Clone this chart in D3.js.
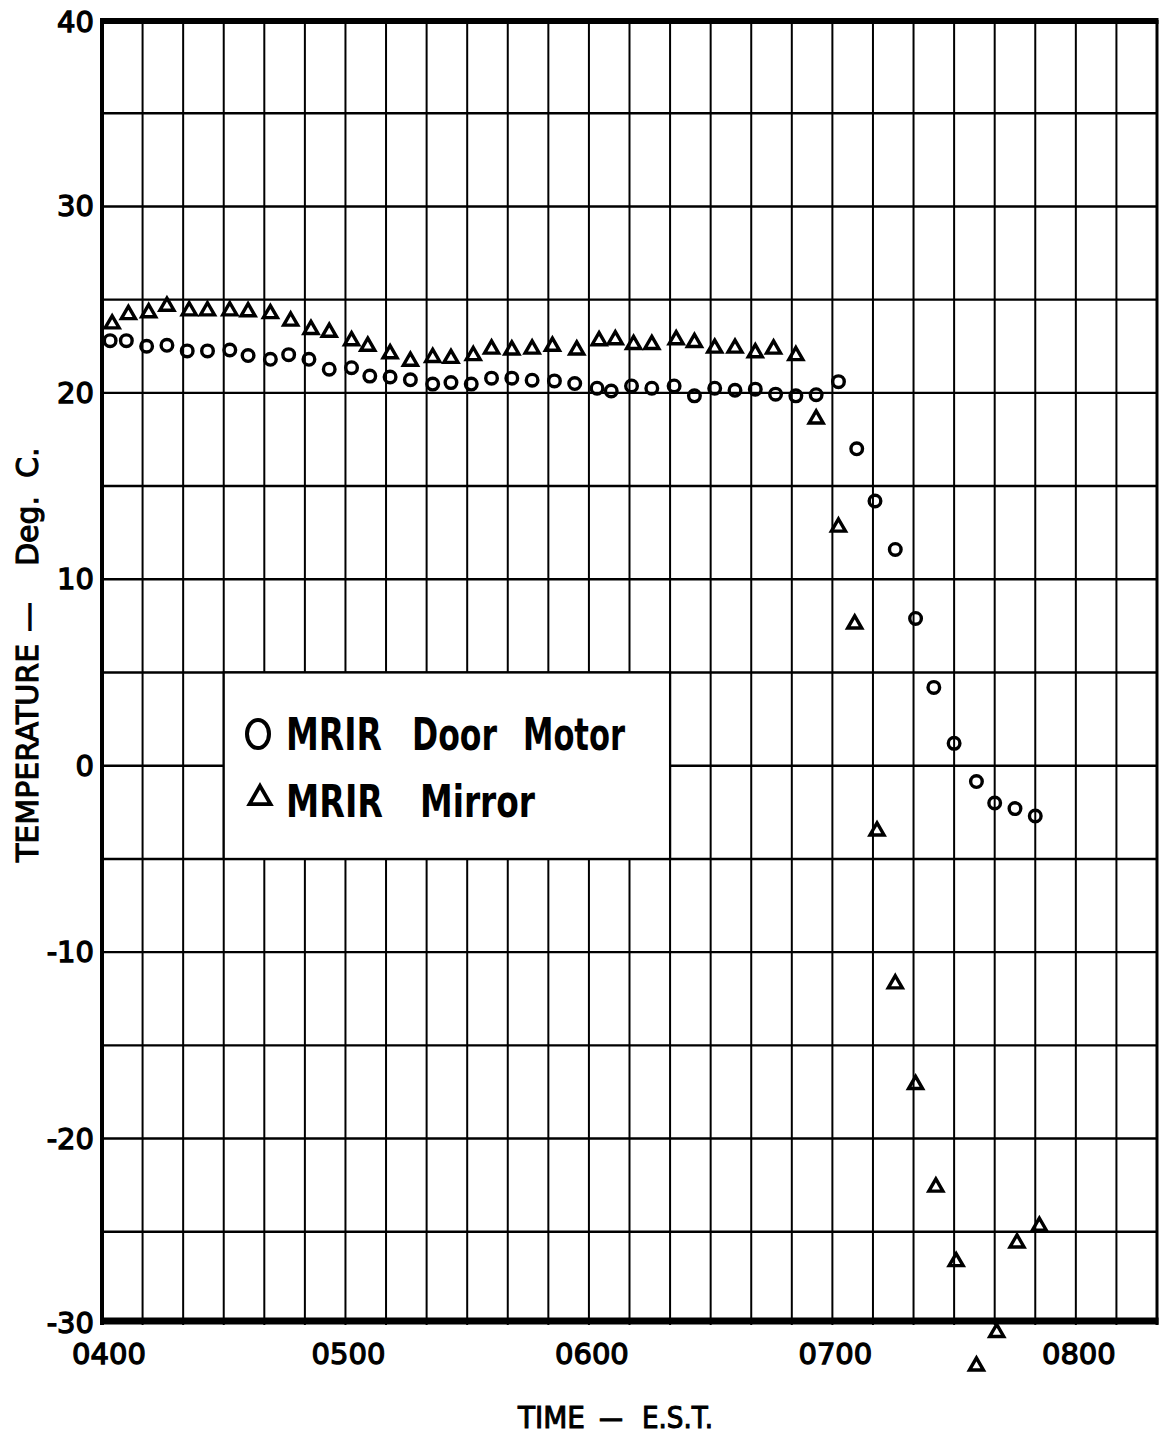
<!DOCTYPE html>
<html>
<head>
<meta charset="utf-8">
<script src="https://cdn.jsdelivr.net/npm/d3@7"></script>
<style>
  html, body { margin: 0; padding: 0; background: #fff; }
  svg { display: block; }
</style>
</head>
<body>
<div id="chart"></div>
<script>

/*********** DATA ***********/

// minutes after 0400 EST
var motorMinutes = [2, 6, 11, 16, 21, 26, 31.5, 36, 41.5, 46, 51, 56, 61.5, 66, 71, 76, 81.5, 86, 91, 96,
    101, 106, 111.5, 116.5, 122, 125.5, 130.5, 135.5, 141, 146, 151, 156, 161, 166, 171, 176, 181.5,
    186, 190.5, 195.5, 200.5, 205, 210, 215.5, 220, 225, 230]
var motorTemp = [22.8, 22.8, 22.5, 22.55, 22.25, 22.25, 22.3, 22.0, 21.8, 22.05, 21.8, 21.27, 21.35, 20.9,
    20.85, 20.7, 20.47, 20.55, 20.47, 20.79, 20.79, 20.68, 20.64, 20.5, 20.25, 20.1, 20.37, 20.25, 20.37,
    19.84, 20.25, 20.14, 20.2, 19.93, 19.84, 19.9, 20.6, 17.0, 14.2, 11.6, 7.9, 4.2, 1.2, -0.85, -2.0,
    -2.3, -2.7]

var mirrorMinutes = [2.5, 6.5, 11.5, 16, 21.5, 26, 31.5, 36, 41.5, 46.5, 51.5, 56, 61.5, 65.5, 71, 76, 81.5,
    86, 91.5, 96, 101, 106, 111, 117, 122.5, 126.5, 131, 135.5, 141.5, 146, 151, 156, 161, 165.5, 171,
    176, 181.5, 185.5, 191, 195.5, 200.5, 205.5, 210.5, 215.5, 220.5, 225.5, 231]
var mirrorTemp = [23.7, 24.2, 24.3, 24.65, 24.4, 24.4, 24.4, 24.35, 24.25, 23.85, 23.4, 23.25, 22.8, 22.5,
    22.1, 21.7, 21.9, 21.85, 22.0, 22.35, 22.3, 22.35, 22.5, 22.3, 22.8, 22.85, 22.6, 22.6, 22.85, 22.7,
    22.4, 22.4, 22.15, 22.35, 22.0, 18.6, 12.8, 7.6, -3.5, -11.7, -17.1, -22.6, -26.6, -32.2, -30.4,
    -25.6, -24.7]

var xTickMinutes = [0, 60, 120, 180, 240]
var xTickLabels = ["0400", "0500", "0600", "0700", "0800"]
var yTickValues = [40, 30, 20, 10, 0, -10, -20, -30]
var yTickLabels = ["40", "30", "20", "10", "0", "-10", "-20", "-30"]

var legendLabels = ["MRIR Door Motor", "MRIR Mirror"]


/*********** GRAPHIQUE ***********/

var W = 1160, H = 1441
var FONT = "'DejaVu Sans', 'Liberation Sans', sans-serif"

var svg = d3.select("#chart").append("svg")
    .attr("width", W)
    .attr("height", H)

var x = d3.scaleLinear().domain([0, 260]).range([102, 1157])
var y = d3.scaleLinear().domain([-30, 40]).range([1325, 20])

// grid: every 10 minutes, every 5 degrees
var gridG = svg.append("g").attr("stroke", "#000").attr("fill", "none")

gridG.selectAll("line.v")
    .data(d3.range(10, 260, 10))
    .enter().append("line")
    .attr("class", "v")
    .attr("x1", function (d) { return x(d) })
    .attr("x2", function (d) { return x(d) })
    .attr("y1", y(40))
    .attr("y2", y(-30))
    .attr("stroke-width", 2)

gridG.selectAll("line.h")
    .data(d3.range(-25, 40, 5))
    .enter().append("line")
    .attr("class", "h")
    .attr("x1", x(0))
    .attr("x2", x(260))
    .attr("y1", function (d) { return y(d) })
    .attr("y2", function (d) { return y(d) })
    .attr("stroke-width", 2.4)

// legend box covers the grid
svg.append("rect")
    .attr("x", x(30))
    .attr("y", y(5))
    .attr("width", x(140) - x(30))
    .attr("height", y(-5) - y(5))
    .attr("fill", "#fff")
    .attr("stroke", "#000")
    .attr("stroke-width", 2.2)

// frame
svg.append("line").attr("x1", x(0)).attr("x2", x(0)).attr("y1", y(40)).attr("y2", y(-30))
    .attr("stroke", "#000").attr("stroke-width", 4)
svg.append("line").attr("x1", x(260)).attr("x2", x(260)).attr("y1", y(40)).attr("y2", y(-30))
    .attr("stroke", "#000").attr("stroke-width", 3)
svg.append("line").attr("x1", x(0) - 2).attr("x2", x(260) + 1.5).attr("y1", y(40) + 1).attr("y2", y(40) + 1)
    .attr("stroke", "#000").attr("stroke-width", 6)
svg.append("line").attr("x1", x(0) - 2).attr("x2", x(260) + 1.5).attr("y1", y(-30) - 4).attr("y2", y(-30) - 4)
    .attr("stroke", "#000").attr("stroke-width", 7)

// tick labels
svg.append("g").selectAll("text")
    .data(yTickValues)
    .enter().append("text")
    .attr("x", 94)
    .attr("y", function (d) { return y(d) + (d == 40 ? 12 : (d == -30 ? 8 : 10)) })
    .attr("text-anchor", "end")
    .attr("font-family", FONT)
    .attr("font-size", 29)
    .attr("fill", "#000").attr("stroke", "#000").attr("stroke-width", 1.3)
    .text(function (d, i) { return yTickLabels[i] })

svg.append("g").selectAll("text")
    .data(xTickMinutes)
    .enter().append("text")
    .attr("x", function (d, i) { return x(d) + (i == 0 ? 7 : 3) })
    .attr("y", 1364)
    .attr("text-anchor", "middle")
    .attr("font-family", FONT)
    .attr("font-size", 29)
    .attr("fill", "#000").attr("stroke", "#000").attr("stroke-width", 1.3)
    .text(function (d, i) { return xTickLabels[i] })

// axis titles
var xTitle = svg.append("text")
    .attr("y", 1428)
    .attr("font-family", FONT)
    .attr("font-size", 30)
    .attr("fill", "#000").attr("stroke", "#000").attr("stroke-width", 1.1)
xTitle.append("tspan").attr("x", 518).attr("textLength", 67).attr("lengthAdjust", "spacingAndGlyphs").text("TIME")
xTitle.append("tspan").attr("x", 599).attr("textLength", 24).attr("lengthAdjust", "spacingAndGlyphs").text("—")
xTitle.append("tspan").attr("x", 642).attr("textLength", 71).attr("lengthAdjust", "spacingAndGlyphs").text("E.S.T.")

var yTitle = svg.append("text")
    .attr("transform", "translate(38,0) rotate(-90)")
    .attr("font-family", FONT)
    .attr("font-size", 30)
    .attr("fill", "#000").attr("stroke", "#000").attr("stroke-width", 1.1)
yTitle.append("tspan").attr("x", -862).text("TEMPERATURE")
yTitle.append("tspan").attr("x", -632).text("—")
yTitle.append("tspan").attr("x", -566).text("Deg.")
yTitle.append("tspan").attr("x", -478).text("C.")

// markers
function trianglePath(s) {
    var h = s * Math.sqrt(3) / 2
    return "M0," + (-2 * h / 3) + "L" + (s / 2) + "," + (h / 3) + "L" + (-s / 2) + "," + (h / 3) + "Z"
}

var motorData = motorMinutes.map(function (m, i) { return { t: m, v: motorTemp[i] } })
var mirrorData = mirrorMinutes.map(function (m, i) { return { t: m, v: mirrorTemp[i] } })

svg.append("g").selectAll("circle")
    .data(motorData)
    .enter().append("circle")
    .attr("cx", function (d) { return x(d.t) })
    .attr("cy", function (d) { return y(d.v) })
    .attr("r", 5.8)
    .attr("fill", "none")
    .attr("stroke", "#000")
    .attr("stroke-width", 3.4)

svg.append("g").selectAll("path")
    .data(mirrorData)
    .enter().append("path")
    .attr("d", trianglePath(14))
    .attr("transform", function (d) { return "translate(" + x(d.t) + "," + y(d.v) + ")" })
    .attr("fill", "none")
    .attr("stroke", "#000")
    .attr("stroke-width", 3.4)
    .attr("stroke-linejoin", "miter")

// legend
svg.append("ellipse")
    .attr("cx", 258).attr("cy", 734).attr("rx", 11).attr("ry", 14)
    .attr("fill", "none").attr("stroke", "#000").attr("stroke-width", 4)
svg.append("path")
    .attr("d", trianglePath(21))
    .attr("transform", "translate(260,798)")
    .attr("fill", "none").attr("stroke", "#000").attr("stroke-width", 3.8)

function legendLine(words, xs, lens, baseline) {
    var t = svg.append("text")
        .attr("y", baseline)
        .attr("font-family", FONT)
        .attr("font-weight", "bold")
        .attr("font-size", 44)
        .attr("fill", "#000")
    words.forEach(function (w, i) {
        t.append("tspan")
            .attr("x", xs[i])
            .attr("textLength", lens[i])
            .attr("lengthAdjust", "spacingAndGlyphs")
            .text(w)
    })
}
legendLine(legendLabels[0].split(" "), [286, 412, 523], [96, 85, 102], 750)
legendLine(legendLabels[1].split(" "), [286, 420], [97, 115], 817)

</script>
</body>
</html>
